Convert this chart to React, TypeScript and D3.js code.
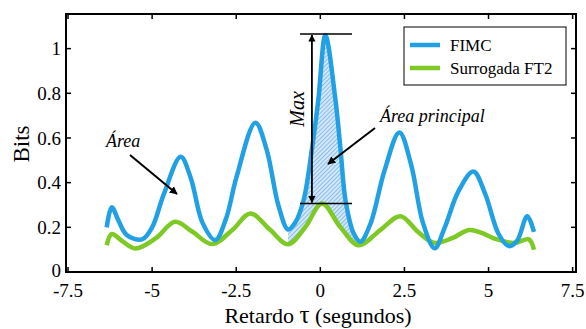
import * as d3 from "d3";

// ---------------------------------------------------------------------------
// Data
// ---------------------------------------------------------------------------

const FIMC_X = [
  -6.35, -6.2, -6.0, -5.75, -5.3, -5.0, -4.65, -4.15, -3.85, -3.5, -3.12,
  -2.8, -2.5, -1.93, -1.6, -1.25, -0.96, -0.75, -0.5, -0.25, -0.06, 0.15,
  0.45, 0.6, 0.75, 1.0, 1.19, 1.5, 1.9, 2.35, 2.7, 3.05, 3.4, 3.7, 4.1,
  4.55, 4.9, 5.3, 5.6, 5.85, 6.15, 6.35,
];
const FIMC_Y = [
  0.2, 0.29, 0.23, 0.165, 0.146, 0.2, 0.35, 0.516, 0.42, 0.22, 0.143,
  0.24, 0.42, 0.668, 0.55, 0.3, 0.19, 0.22, 0.32, 0.55, 0.77, 1.06,
  0.77, 0.55, 0.32, 0.17, 0.136, 0.22, 0.45, 0.625, 0.48, 0.22, 0.106, 0.2, 0.36,
  0.45, 0.35, 0.17, 0.116, 0.14, 0.25, 0.18,
];

const SURR_X = [
  -6.35, -6.2, -5.9, -5.5, -4.9, -4.32, -3.8, -3.22, -2.6, -2.08, -1.5,
  -0.96, -0.45, 0.05, 0.6, 1.14, 1.8, 2.38, 2.9, 3.37, 3.9, 4.42, 4.8,
  5.16, 5.75, 6.2, 6.35,
];
const SURR_Y = [
  0.12, 0.17, 0.14, 0.105, 0.15, 0.225, 0.18, 0.125, 0.19, 0.262, 0.19,
  0.124, 0.2, 0.307, 0.2, 0.12, 0.19, 0.25, 0.18, 0.131, 0.15, 0.188, 0.175,
  0.15, 0.13, 0.146, 0.1,
];

const X_TICKS = [-7.5, -5, -2.5, 0, 2.5, 5, 7.5];
const Y_TICKS = [0, 0.2, 0.4, 0.6, 0.8, 1];

const AREA_RANGE = [-0.96, 1.19];
const MAX_RANGE = [0.307, 1.065];

// ---------------------------------------------------------------------------
// Style
// ---------------------------------------------------------------------------

const BLUE = "#21a0e4";
const GREEN = "#7ec925";
const FONT = "'Liberation Serif', 'Times New Roman', serif";

const W = 586;
const H = 329;
const PLOT = { left: 66, right: 576, top: 14, bottom: 272 };

export default function App() {
  const x = d3.scaleLinear().domain([-7.56, 7.6]).range([PLOT.left, PLOT.right]);
  const y = d3.scaleLinear().domain([0, 1.155]).range([PLOT.bottom, PLOT.top]);

  const fimc = FIMC_X.map((v, i) => [v, FIMC_Y[i]] as [number, number]);
  const surr = SURR_X.map((v, i) => [v, SURR_Y[i]] as [number, number]);

  const curve = d3.curveCatmullRom.alpha(0.5);
  const line = d3
    .line<[number, number]>()
    .x((d) => x(d[0]))
    .y((d) => y(d[1]))
    .curve(curve);

  // area under FIMC, clipped above the surrogate and to the main lobe
  const underFimc = d3
    .area<[number, number]>()
    .x((d) => x(d[0]))
    .y0(y(0))
    .y1((d) => y(d[1]))
    .curve(curve);
  const aboveSurr = d3
    .area<[number, number]>()
    .x((d) => x(d[0]))
    .y0(y(1.155))
    .y1((d) => y(d[1]))
    .curve(curve);

  const tickLen = 5;
  const maxX = x(-0.25);

  return (
    <div style={{ position: "absolute", left: 0, top: 0 }}>
      <svg width={W} height={H} style={{ display: "block", background: "#fff" }} fontFamily={FONT}>
        <defs>
          <pattern id="hatch" width={3} height={3} patternUnits="userSpaceOnUse" patternTransform="rotate(45)">
            <rect width={3} height={3} fill="#d3e7f8" />
            <line x1={0} y1={0} x2={0} y2={3} stroke="#4a9be0" strokeWidth={1.1} />
          </pattern>
          <clipPath id="aboveSurr">
            <path d={aboveSurr(surr) ?? ""} />
          </clipPath>
          <clipPath id="lobe">
            <rect x={x(AREA_RANGE[0])} y={0} width={x(AREA_RANGE[1]) - x(AREA_RANGE[0])} height={H} />
          </clipPath>
          <marker id="arrow" viewBox="0 0 10 10" refX={9} refY={5} markerWidth={4} markerHeight={4} orient="auto-start-reverse">
            <path d="M0,0 L10,5 L0,10 z" fill="#000" />
          </marker>
        </defs>

        {/* hatched main area */}
        <g clipPath="url(#lobe)">
          <g clipPath="url(#aboveSurr)">
            <path d={underFimc(fimc) ?? ""} fill="url(#hatch)" />
          </g>
        </g>

        {/* curves */}
        <path d={line(surr) ?? ""} fill="none" stroke={GREEN} strokeWidth={4.5} strokeLinejoin="round" />
        <path d={line(fimc) ?? ""} fill="none" stroke={BLUE} strokeWidth={4.5} strokeLinejoin="round" />

        {/* frame */}
        <rect
          x={PLOT.left}
          y={PLOT.top}
          width={PLOT.right - PLOT.left}
          height={PLOT.bottom - PLOT.top}
          fill="none"
          stroke="#000"
          strokeWidth={2}
        />

        {/* x ticks */}
        {X_TICKS.map((t) => (
          <g key={`x${t}`}>
            <line x1={x(t)} x2={x(t)} y1={PLOT.bottom} y2={PLOT.bottom - tickLen} stroke="#000" strokeWidth={1.5} />
            <line x1={x(t)} x2={x(t)} y1={PLOT.top} y2={PLOT.top + tickLen} stroke="#000" strokeWidth={1.5} />
            <text x={x(t)} y={297} textAnchor="middle" fontSize={19} fill="#000">
              {t}
            </text>
          </g>
        ))}

        {/* y ticks */}
        {Y_TICKS.map((t) => (
          <g key={`y${t}`}>
            <line x1={PLOT.left} x2={PLOT.left + tickLen} y1={y(t)} y2={y(t)} stroke="#000" strokeWidth={1.5} />
            <line x1={PLOT.right} x2={PLOT.right - tickLen} y1={y(t)} y2={y(t)} stroke="#000" strokeWidth={1.5} />
            <text x={61} y={y(t) - (t === 0 ? 2 : 0)} dy="0.35em" textAnchor="end" fontSize={19} fill="#000">
              {t}
            </text>
          </g>
        ))}

        {/* axis titles */}
        <text x={318} y={323} textAnchor="middle" fontSize={22} fill="#000">
          Retardo <tspan fontSize={25}>τ</tspan> (segundos)
        </text>
        <text transform="translate(29,144) rotate(-90)" textAnchor="middle" fontSize={23} fill="#000">
          Bits
        </text>

        {/* Max annotation */}
        <line x1={300} x2={352} y1={y(MAX_RANGE[1])} y2={y(MAX_RANGE[1])} stroke="#000" strokeWidth={1.5} />
        <line x1={300} x2={352} y1={y(MAX_RANGE[0])} y2={y(MAX_RANGE[0])} stroke="#000" strokeWidth={1.5} />
        <line
          x1={maxX}
          x2={maxX}
          y1={y(MAX_RANGE[1]) + 1}
          y2={y(MAX_RANGE[0]) - 1}
          stroke="#000"
          strokeWidth={1.8}
          markerStart="url(#arrow)"
          markerEnd="url(#arrow)"
        />
        <text
          transform={`translate(304,109) rotate(-90)`}
          textAnchor="middle"
          fontSize={20}
          fontStyle="italic"
          fill="#000"
        >
          Max
        </text>

        {/* Área principal */}
        <text x={380} y={122} fontSize={18} fontStyle="italic" fill="#000">
          Área principal
        </text>
        <line x1={375} y1={128} x2={328} y2={164} stroke="#000" strokeWidth={2} markerEnd="url(#arrow)" />

        {/* Área */}
        <text x={106} y={147} fontSize={18} fontStyle="italic" fill="#000">
          Área
        </text>
        <line x1={130} y1={155} x2={177} y2={194} stroke="#000" strokeWidth={2} markerEnd="url(#arrow)" />

        {/* legend */}
        <rect x={404} y={27} width={162} height={58} fill="#fff" stroke="#000" strokeWidth={1} />
        <line x1={410} x2={440} y1={45} y2={45} stroke={BLUE} strokeWidth={4.5} />
        <text x={450} y={45} dy="0.35em" fontSize={17} fill="#000">
          FIMC
        </text>
        <line x1={410} x2={440} y1={68} y2={68} stroke={GREEN} strokeWidth={4.5} />
        <text x={450} y={68} dy="0.35em" fontSize={17} fill="#000">
          Surrogada FT2
        </text>
      </svg>
    </div>
  );
}
